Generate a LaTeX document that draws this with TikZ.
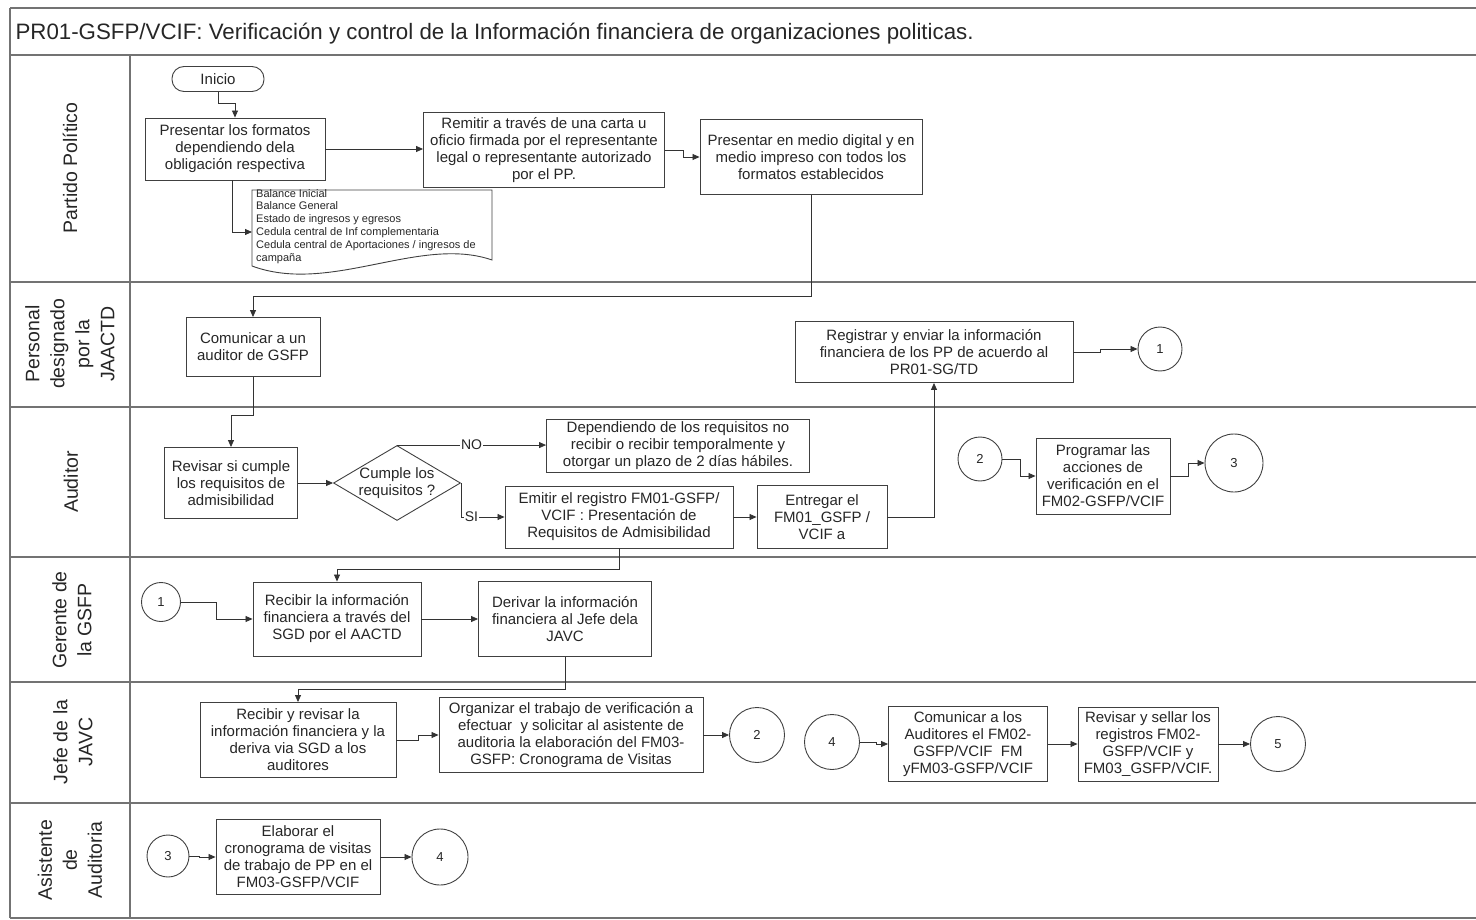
\documentclass[tikz,border=0pt]{standalone}
\usepackage{fontspec}
\setmainfont{Liberation Sans}
\usetikzlibrary{arrows.meta,shapes.geometric}
\tikzset{
  lane/.style={draw=black!55, line width=1.3pt},
  box/.style={draw=black!75, line width=0.9pt, align=center, inner sep=2pt,
    text=black!85, font=\fontsize{15}{17}\selectfont},
  conn/.style={circle, draw=black!75, line width=0.9pt, inner sep=0pt,
    text=black!85, font=\fontsize{13}{15}\selectfont},
  lanename/.style={rotate=90, align=center, text=black!85,
    font=\fontsize{19.5}{25}\selectfont},
  flow/.style={draw=black!80, line width=0.8pt, -{Triangle[length=7pt,width=6pt]}},
  tag/.style={fill=white, inner sep=1pt, text=black!85,
    font=\fontsize{14}{16}\selectfont},
}
\begin{document}
\begin{tikzpicture}[x=1pt, y=-1pt]
  \useasboundingbox (0,0) rectangle (1476,920);
  % swimlanes
  \draw[lane] (10,8) -- (1476,8);
  \draw[lane] (10,55) -- (1476,55);
  \draw[lane] (10,282) -- (1476,282);
  \draw[lane] (10,407) -- (1476,407);
  \draw[lane] (10,557) -- (1476,557);
  \draw[lane] (10,682) -- (1476,682);
  \draw[lane] (10,803) -- (1476,803);
  \draw[lane] (10,918) -- (1476,918);
  \draw[lane] (10,8) -- (10,918);
  \draw[lane] (130,55) -- (130,918);
  \node[anchor=base west, text=black!85, font=\fontsize{22.3}{26}\selectfont] (titulo) at (12,40)
    {PR01-GSFP/VCIF: Verificación y control de la Información financiera de organizaciones politicas.};
  \path
    (70,168) node[lanename] (pp){Partido Político}
    (70,344) node[lanename] (pjaactd){Personal\\designado\\por la\\JAACTD}
    (71,482) node[lanename] (aud){Auditor}
    (72,620) node[lanename] (gsfp){Gerente de\\la GSFP}
    (73,742) node[lanename] (javc){Jefe de la\\JAVC}
    (70,860) node[lanename] (asis){Asistente\\de\\Auditoria};
  % Partido Politico
  \path
    (218,79) node[box, rounded corners=12pt, minimum width=92pt, minimum height=25pt] (inicio){Inicio}
    (235,149) node[box, minimum width=180pt, minimum height=62pt] (pres){Presentar los formatos\\dependiendo dela\\obligación respectiva}
    (544,150) node[box, minimum width=241pt, minimum height=75pt] (remitir){Remitir a través de una carta u\\oficio firmada por el representante\\legal o representante autorizado\\por el PP.}
    (811,157) node[box, minimum width=222pt, minimum height=75pt] (digital){Presentar en medio digital y en\\medio impreso con todos los\\formatos establecidos};
  \draw[draw=black!75, line width=0.9pt] (252,190) -- (492,190) -- (492,260)
    .. controls (420,235) and (330,295) .. (252,266) -- cycle;
  \node[anchor=north west, align=left, inner sep=0pt, text=black!85,
    font=\fontsize{11}{12.8}\selectfont] (lista) at (256,189)
    {Balance Inicial\\Balance General\\Estado de ingresos y egresos\\Cedula central de Inf complementaria\\Cedula central de Aportaciones / ingresos de\\campaña};
  \coordinate (lista in) at (252,232);
  % Personal designado
  \path
    (253,347) node[box, minimum width=134pt, minimum height=59pt] (comunicar){Comunicar a un\\auditor de GSFP}
    (934,352) node[box, minimum width=278pt, minimum height=61pt] (registrar){Registrar y enviar la información\\financiera de los PP de acuerdo al\\PR01-SG/TD}
    (1160,349) node[conn, minimum size=44pt] (c1a){1};
  % Auditor
  \path
    (231,483) node[box, minimum width=133pt, minimum height=71pt] (revisar){Revisar si cumple\\los requisitos de\\admisibilidad}
    (397,483) node[box, diamond, shape aspect=1.7, inner sep=-4pt, minimum width=127pt, minimum height=75pt] (cumple){Cumple los\\requisitos ?}
    (678,446) node[box, minimum width=263pt, minimum height=53pt] (depende){Dependiendo de los requisitos no\\recibir o recibir temporalmente y\\otorgar un plazo de 2 días hábiles.}
    (619,517) node[box, minimum width=228pt, minimum height=62pt] (emitir){Emitir el registro FM01-GSFP/\\VCIF : Presentación de\\Requisitos de Admisibilidad}
    (822,517) node[box, minimum width=130pt, minimum height=63pt] (entregar){Entregar el\\FM01\_GSFP /\\VCIF a}
    (980,459) node[conn, minimum size=44pt] (c2a){2}
    (1103,476) node[box, minimum width=134pt, minimum height=76pt] (programar){Programar las\\acciones de\\verificación en el\\FM02-GSFP/VCIF}
    (1234,463) node[conn, minimum size=58pt] (c3a){3};
  % Gerente de la GSFP
  \path
    (161,602) node[conn, minimum size=39pt] (c1b){1}
    (337,619) node[box, minimum width=168pt, minimum height=74pt] (recibir){Recibir la información\\financiera a través del\\SGD por el AACTD}
    (565,619) node[box, minimum width=173pt, minimum height=75pt] (derivar){Derivar la información\\financiera al Jefe dela\\JAVC};
  % Jefe de la JAVC
  \path
    (298,740) node[box, minimum width=196pt, minimum height=75pt] (recrev){Recibir y revisar la\\información financiera y la\\deriva via SGD a los\\auditores}
    (571,735) node[box, minimum width=264pt, minimum height=75pt] (organizar){Organizar el trabajo de verificación a\\efectuar\ \ y solicitar al asistente de\\auditoria la elaboración del FM03-\\GSFP: Cronograma de Visitas}
    (757,735) node[conn, minimum size=55pt] (c2b){2}
    (832,742) node[conn, minimum size=55pt] (c4a){4}
    (968,744) node[box, minimum width=159pt, minimum height=75pt] (comaud){Comunicar a los\\Auditores el FM02-\\GSFP/VCIF\ \ FM\\yFM03-GSFP/VCIF}
    (1148,744) node[box, minimum width=140pt, minimum height=74pt] (sellar){Revisar y sellar los\\registros FM02-\\GSFP/VCIF y\\FM03\_GSFP/VCIF.}
    (1278,744) node[conn, minimum size=55pt] (c5){5};
  % Asistente de Auditoria
  \path
    (168,856) node[conn, minimum size=42pt] (c3b){3}
    (298,857) node[box, minimum width=164pt, minimum height=75pt] (elaborar){Elaborar el\\cronograma de visitas\\de trabajo de PP en el\\FM03-GSFP/VCIF}
    (440,857) node[conn, minimum size=56pt] (c4b){4};
  \begin{scope}[flow]
    \draw (inicio.south) -- ++(0,11) -| (pres.north);
    \draw (pres.east) -- (pres.east -| remitir.west);
    \draw (remitir.east) -- ++(18,0) |- (digital.west);
    \draw ([xshift=-3pt]pres.south) |- (lista in);
    \draw (digital.south) -- ++(0,101) -| (comunicar.north);
    \draw (registrar.east) -- ++(27,0) |- (c1a.west);
    \draw (comunicar.south) -- ++(0,38) -| (revisar.north);
    \draw (revisar.east) to (cumple.west);
    \draw (cumple.north) -- (cumple.north -| depende.west) node[tag, pos=0.5]{NO};
    \draw (cumple.east) |- (emitir.west) node[tag, pos=0.62]{SI};
    \draw (emitir.east) to (entregar.west);
    \draw (entregar.east) -| (registrar.south);
    \draw (c2a.east) -- ++(18,0) |- (programar.west);
    \draw (programar.east) -- ++(18,0) |- (c3a.west);
    \draw (emitir.south) -- ++(0,21) -| (recibir.north);
    \draw (c1b.east) -- ++(35,0) |- (recibir.west);
    \draw (recibir.east) to (derivar.west);
    \draw (derivar.south) -- ++(0,32) -| (recrev.north);
    \draw (recrev.east) -- ++(22,0) |- (organizar.west);
    \draw (organizar.east) to (c2b.west);
    \draw (c4a.east) -- ++(16,0) |- (comaud.west);
    \draw (comaud.east) to (sellar.west);
    \draw (sellar.east) to (c5.west);
    \draw (c3b.east) -- ++(10,0) |- (elaborar.west);
    \draw (elaborar.east) to (c4b.west);
  \end{scope}
\end{tikzpicture}
\end{document}
